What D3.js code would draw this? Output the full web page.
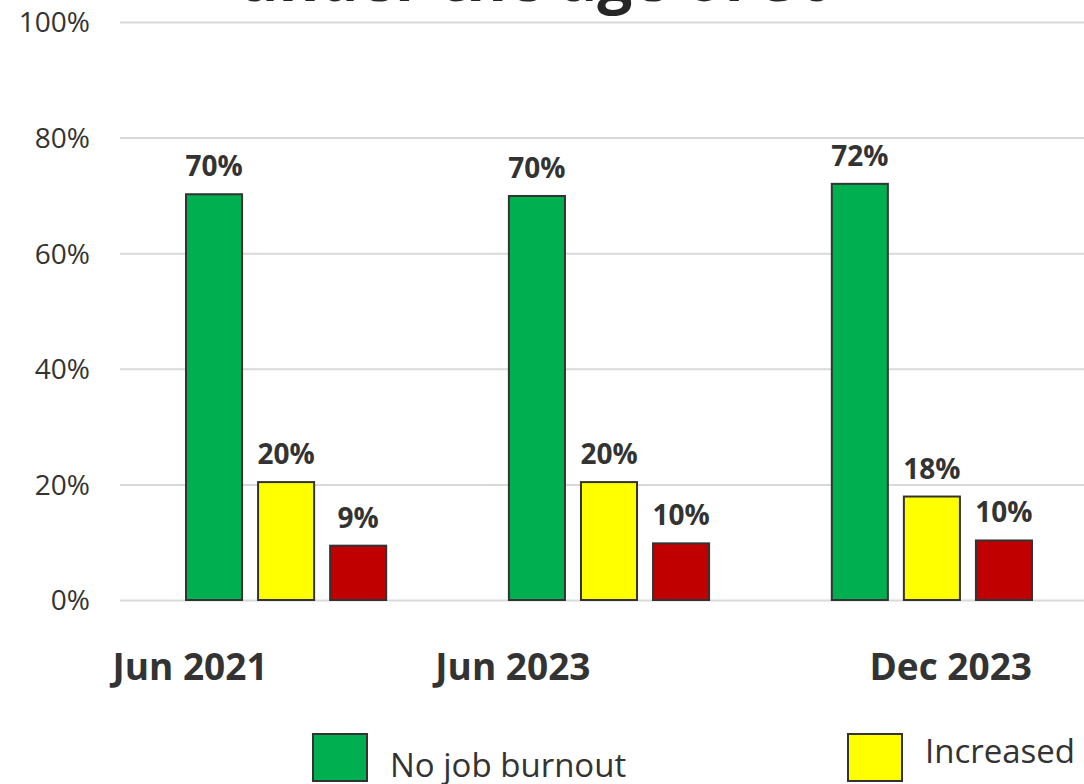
<!DOCTYPE html>
<html>
<head>
<meta charset="utf-8">
<script src="https://cdn.jsdelivr.net/npm/d3@7"></script>
<style>
  html, body { margin: 0; padding: 0; background: #fff; }
  svg { display: block; }
  text { font-family: "Open Sans", "Noto Sans", sans-serif; fill: #333; }
</style>
</head>
<body>
<svg id="chart" width="1084" height="784"></svg>
<script>
// Survey waves
const categories = ["Jun 2021", "Jun 2023", "Dec 2023"];
// Series names and colours
const seriesNames = ["No job burnout", "Increased", "Decreased"];
const seriesColors = ["#00b050", "#ffff00", "#c00000"];
// Share of respondents per wave
const noBurnout = [0.702, 0.699, 0.720];
const increased = [0.204, 0.204, 0.179];
const decreased = [0.094, 0.098, 0.103];
const seriesValues = [noBurnout, increased, decreased];
// Y axis ticks
const yTicks = [0, 0.2, 0.4, 0.6, 0.8, 1.0];
const titleText = "under the age of 30";

const W = 1084, H = 784;
const svg = d3.select("#chart");

const y = d3.scaleLinear().domain([0, 1]).range([600, 22]);
const x0 = d3.scaleBand().domain(categories).range([186, 1032])
  .paddingInner(0.38).paddingOuter(0);
const x1 = d3.scaleBand().domain(seriesNames).range([0, x0.bandwidth()])
  .paddingInner(0.222).paddingOuter(0);

const pct = d3.format(".0%");

// Title (mostly above the visible area)
svg.append("text")
  .attr("x", 536).attr("y", 1)
  .attr("text-anchor", "middle")
  .style("font-size", "62px").style("font-weight", 700)
  .style("fill", "#262626")
  .text(titleText);

// Gridlines and tick labels
const yAxis = d3.axisLeft(y).tickValues(yTicks).tickFormat(pct)
  .tickSize(-(W - 120)).tickPadding(30);
const gy = svg.append("g").attr("transform", "translate(120,0)").call(yAxis);
gy.select(".domain").remove();
gy.selectAll(".tick line").attr("stroke", "#d9d9d9").attr("stroke-width", 2);
gy.selectAll(".tick text")
  .style("font-size", "28px").style("fill", "#333")
  .attr("x", -30).attr("dy", "0.35em");

// Bars
const rows = [];
categories.forEach((c, i) => {
  seriesNames.forEach((s, j) => {
    rows.push({ cat: c, series: s, value: seriesValues[j][i], color: seriesColors[j] });
  });
});

const gBars = svg.append("g");
gBars.selectAll("rect").data(rows).enter().append("rect")
  .attr("x", d => x0(d.cat) + x1(d.series))
  .attr("y", d => y(d.value))
  .attr("width", x1.bandwidth())
  .attr("height", d => y(0) - y(d.value))
  .attr("fill", d => d.color)
  .attr("stroke", "#333").attr("stroke-width", 2);

gBars.selectAll("text.val").data(rows).enter().append("text")
  .attr("class", "val")
  .attr("x", d => x0(d.cat) + x1(d.series) + x1.bandwidth() / 2)
  .attr("y", d => y(d.value) - 18)
  .attr("text-anchor", "middle")
  .style("font-size", "28px").style("font-weight", 700)
  .text(d => pct(d.value));

// Category labels
svg.selectAll("text.cat").data(categories).enter().append("text")
  .attr("class", "cat")
  .attr("x", (d, i) => i === categories.length - 1 ? x0(d) + x0.bandwidth() : x0(d) + 4)
  .attr("y", 680)
  .attr("text-anchor", (d, i) => i === categories.length - 1 ? "end" : "middle")
  .style("font-size", "37px").style("font-weight", 700)
  .text(d => d);

// Legend row (runs past the right edge)
const legendX = d3.scaleLinear().domain([0, 1]).range([313, 848]);
const legendTextY = [777, 763, 763];
const lg = svg.append("g").selectAll("g").data(seriesNames).enter().append("g")
  .attr("transform", (d, i) => `translate(${legendX(i)},734)`);
lg.append("rect")
  .attr("width", 54).attr("height", 47)
  .attr("fill", (d, i) => seriesColors[i])
  .attr("stroke", "#333").attr("stroke-width", 2);
lg.append("text")
  .attr("x", 77).attr("y", (d, i) => legendTextY[i] - 734)
  .style("font-size", "33px")
  .text(d => d);
</script>
</body>
</html>
